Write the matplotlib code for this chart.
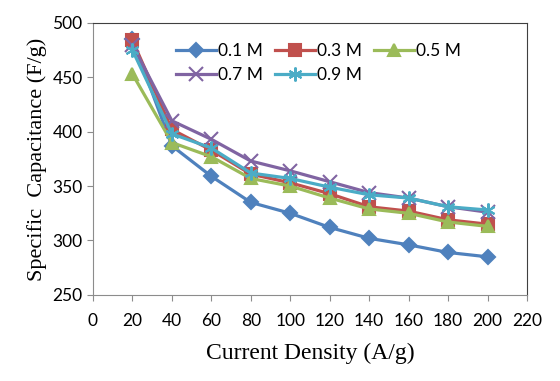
import matplotlib.pyplot as plt

density = [20, 40, 60, 80, 100, 120, 140, 160, 180, 200]
cap_01 = [485, 387, 359, 335, 325, 312, 302, 296, 289, 285]
cap_03 = [484, 402, 383, 361, 353, 343, 331, 327, 319, 315]
cap_05 = [453, 390, 377, 357, 350, 339, 329, 325, 317, 313]
cap_07 = [480, 410, 393, 373, 364, 354, 344, 339, 331, 326]
cap_09 = [475, 398, 385, 362, 357, 349, 342, 339, 331, 328]
labels = ['0.1 M', '0.3 M', '0.5 M', '0.7 M', '0.9 M']

# excel 2007 palette
colors = ['#4F81BD', '#C0504D', '#9BBB59', '#8064A2', '#4BACC6']
markers = ['D', 's', '^', 'x', (6, 2, 0)]
sizes = [7, 8, 9, 10, 10]

fig = plt.figure(figsize=(5.6, 3.81), dpi=100)
ax = fig.add_axes([0.166, 0.226, 0.775, 0.714])

series = [cap_01, cap_03, cap_05, cap_07, cap_09]
lines = []
for vals, lab, col, mk, ms in zip(series, labels, colors, markers, sizes):
    ln, = ax.plot(density, vals, color=col, lw=2.3, marker=mk, ms=ms,
                  mew=1.5, mec=col, mfc=col, label=lab)
    lines.append(ln)

ax.set_xlim(0, 220)
ax.set_ylim(250, 500)
ax.set_xticks(range(0, 221, 20))
ax.set_yticks(range(250, 501, 50))

for s in ['left', 'bottom']:
    ax.spines[s].set_color('#8c8c8c')
for s in ['top', 'right']:
    ax.spines[s].set_color('#404040')
ax.tick_params(direction='out', length=4, color='#8c8c8c', labelsize=12.5,
               top=False, right=False)
ax.tick_params(axis='x', pad=9)
for t in ax.get_xticklabels() + ax.get_yticklabels():
    t.set_family('Lato')

ax.set_xlabel('Current Density (A/g)', family='Liberation Serif', fontsize=17, labelpad=10)
ax.set_ylabel('Specific  Capacitance (F/g)', family='Liberation Serif', fontsize=16, labelpad=4)

# row-major order for the 3-column legend
order = [0, 3, 1, 4, 2]
ax.legend([lines[i] for i in order], [labels[i] for i in order],
          loc='upper left', bbox_to_anchor=(0.175, 0.95), ncol=3, frameon=False,
          prop={'family': 'Lato', 'size': 12.5}, handlelength=2.3, columnspacing=0.7,
          handletextpad=0.12, labelspacing=0.45, borderaxespad=0)

fig.savefig('out.png', dpi=100)
